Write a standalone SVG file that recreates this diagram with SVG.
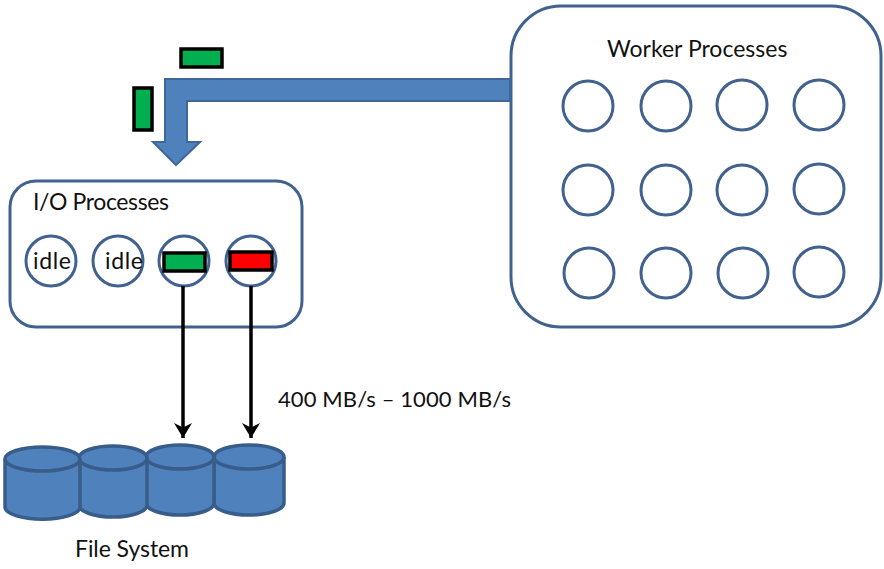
<svg xmlns="http://www.w3.org/2000/svg" width="884" height="569" viewBox="0 0 884 569">
<style>
.box{fill:#fff;stroke:#41628f;stroke-width:3}
.c{fill:#fff;stroke:#41628f;stroke-width:3}
.cyl{fill:#4f81bd;stroke:#385d8a;stroke-width:3.5}
.t{font-family:Lato,"Open Sans",sans-serif;font-size:23px;fill:#111}
.g{fill:#00b050;stroke:#000;stroke-width:3.5}
.r{fill:#f00;stroke:#000;stroke-width:3.5}
.l{fill:none;stroke:#000;stroke-width:3.5}
</style>
<defs>
<marker id="a" markerWidth="18" markerHeight="18" refX="10" refY="6" orient="auto" markerUnits="userSpaceOnUse" viewBox="0 0 10 12"><path d="M0 0L10 6L0 12L3 6Z" fill="#000"/></marker>
</defs>
<g id="worker-processes">
<rect class="box" x="511" y="6" width="370" height="321" rx="50"/>
<text class="t" x="607" y="57">Worker Processes</text>
<circle class="c" cx="588" cy="106" r="25"/><circle class="c" cx="666" cy="106" r="25"/><circle class="c" cx="742" cy="105" r="25"/><circle class="c" cx="819" cy="105" r="25"/>
<circle class="c" cx="588" cy="190" r="25"/><circle class="c" cx="666" cy="190" r="25"/><circle class="c" cx="742" cy="190" r="25"/><circle class="c" cx="819" cy="189" r="25"/>
<circle class="c" cx="589" cy="273" r="25"/><circle class="c" cx="666" cy="273" r="25"/><circle class="c" cx="743" cy="273" r="25"/><circle class="c" cx="819" cy="272" r="25"/>
</g>
<g id="io-processes">
<rect class="box" x="10" y="181" width="292" height="146" rx="26"/>
<text class="t" x="33" y="210" textLength="136">I/O Processes</text>
<circle class="c" cx="51" cy="261" r="25"/><circle class="c" cx="118" cy="261" r="25"/><circle class="c" cx="184" cy="261" r="25"/><circle class="c" cx="251" cy="261" r="25"/>
<text class="t" x="33" y="269" textLength="38">idle</text><text class="t" x="105" y="269" textLength="38">idle</text>
<rect class="g" x="164" y="253" width="41" height="18"/><rect class="r" x="230" y="252" width="42" height="18"/>
</g>
<g id="connectors">
<path d="M510 79H165V142H153L176 165L200 142H187V101H510Z" fill="#4f81bd" stroke="#3f6797" stroke-width="2"/>
<path class="l" d="M183 286V438" marker-end="url(#a)"/>
<path class="l" d="M251 286V438" marker-end="url(#a)"/>
</g>
<g id="messages">
<rect class="g" x="181" y="49" width="41" height="18"/>
<rect class="g" x="134" y="88" width="18" height="42"/>
</g>
<g id="file-system">
<path class="cyl" d="M214 457V503A35 12 0 0 0 284 503V457"/><ellipse class="cyl" cx="249" cy="457" rx="35" ry="12"/>
<path class="cyl" d="M146 457V503A34 12 0 0 0 214 503V457"/><ellipse class="cyl" cx="180" cy="457" rx="34" ry="12"/>
<path class="cyl" d="M79 458V505A34 12 0 0 0 147 505V458"/><ellipse class="cyl" cx="113" cy="458" rx="34" ry="12"/>
<path class="cyl" d="M5 459V507A37 12 0 0 0 80 507V459"/><ellipse class="cyl" cx="42.500" cy="459" rx="37.500" ry="12"/>
<text class="t" x="75" y="557" textLength="114">File System</text>
</g>
<text class="t" x="278" y="407" font-size="22" style="font-size:22px" textLength="233">400 MB/s – 1000 MB/s</text>
</svg>
